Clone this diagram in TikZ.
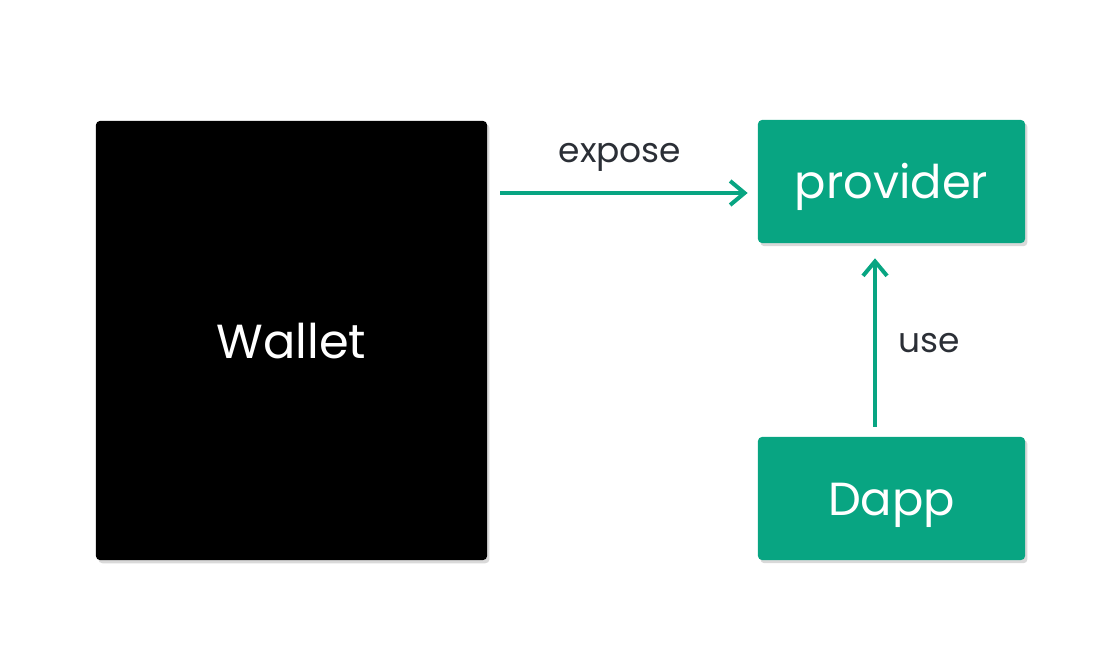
\documentclass[tikz,border=0pt]{standalone}
\usepackage{fontspec}
\setmainfont{Poppins}
\usetikzlibrary{arrows.meta,shadows}

\definecolor{r8g165b130}{rgb}{0.031373,0.647059,0.509804}%
\definecolor{r43g47b54}{rgb}{0.168627,0.184314,0.211765}%

\tikzset{
  boxshadow/.style={drop shadow={shadow xshift=0.06cm,shadow yshift=-0.08cm,opacity=0.25,fill=black!60}},
  walletbox/.style={fill=black,rounded corners=0.1cm,boxshadow,text=white,
    text height=0.88cm,text depth=0cm,
    minimum width=9.775cm,minimum height=10.975cm,font=\fontsize{34}{40}\selectfont},
  greenbox/.style={fill=r8g165b130,rounded corners=0.1cm,boxshadow,text=white,
    text height=0.86cm,text depth=0cm,
    minimum width=6.675cm,minimum height=3.075cm,font=\fontsize{33}{40}\selectfont},
  arrowlabel/.style={text=r43g47b54,anchor=base,font=\fontsize{24.5}{28}\selectfont},
  greenarrow/.style={draw=r8g165b130,line width=0.1cm,
    -{Straight Barb[length=0.36cm,width=0.6cm,line width=0.1cm]}}
}

\begin{document}
\begin{tikzpicture}[x=0.025cm,y=-0.025cm]
                    % \clip (0,0) rectangle (1117,670);
                    \useasboundingbox (0,0) rectangle (1117,670);

                    % Drawing box Wallet
                    \node [walletbox] (wallet) at (291.5,340.5) {Wallet};%

                    % Drawing box provider
                    \node [greenbox] (provider) at (891.5,181.5) {provider};%

                    % Drawing box Dapp
                    \node [greenbox] (dapp) at (891.5,498.5) {Dapp};%

                    % Drawing arrow wallet provider
                    \draw [greenarrow,shorten <=0.325cm,shorten >=0.25cm] (wallet.east |- 0,193) -- (provider.west |- 0,193);%
                    \node [arrowlabel] (exposelabel) at (620,162) {expose};%

                    % Drawing arrow dapp provider
                    \draw [greenarrow,shorten <=0.25cm,shorten >=0.375cm] (dapp.north -| 875,0) -- (provider.south -| 875,0);%
                    \node [arrowlabel] (uselabel) at (929,352) {use};%
                    \end{tikzpicture}
\end{document}
